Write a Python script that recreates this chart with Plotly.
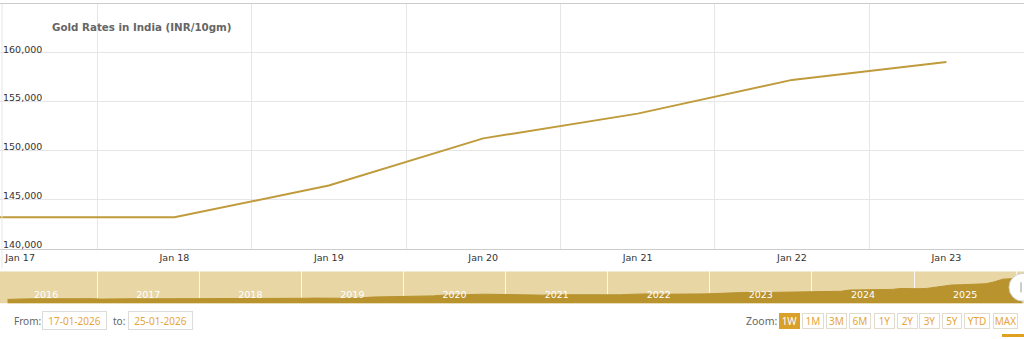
import pandas as pd
import plotly.graph_objects as go

# ---------------- data ----------------
dates = ["2026-01-16", "2026-01-17", "2026-01-18", "2026-01-19",
         "2026-01-20", "2026-01-21", "2026-01-22", "2026-01-23"]
rates = [143190, 143190, 143190, 146440, 151260, 153790, 157240, 159070]

y_ticks = [140000, 145000, 150000, 155000, 160000]

nav_dates = list(pd.date_range("2016-01-15", "2025-12-15", freq="MS") + pd.Timedelta(days=14)) + \
    [pd.Timestamp(d) for d in ["2026-01-09", "2026-01-16", "2026-01-23"]]
nav_values = [
    26000, 28500, 28500, 29000, 29500, 30000, 31000, 31000, 31000, 30000, 29500, 27500,
    28500, 29500, 29000, 29500, 28800, 28800, 28500, 29500, 30000, 29800, 29800, 29000,
    30000, 30500, 30800, 31500, 31500, 30800, 30000, 29800, 30800, 32000, 31000, 31500,
    32500, 33500, 32000, 31800, 32000, 33500, 34800, 37500, 38000, 38500, 38000, 38500,
    40000, 41500, 43000, 46000, 47000, 48000, 50500, 53000, 51000, 50500, 49500, 49000,
    49500, 47000, 44500, 46500, 48500, 48000, 47500, 47000, 46500, 47500, 48500, 47500,
    48000, 50000, 52000, 52500, 50500, 50500, 50500, 51500, 49500, 50500, 52500, 54000,
    56000, 56500, 58500, 60500, 61000, 59000, 59500, 59500, 58500, 60000, 61500, 62500,
    62500, 62500, 65000, 71000, 72000, 72000, 71000, 71500, 74000, 78500, 77000, 77000,
    78500, 84000, 88000, 95000, 96000, 98000, 99000, 101000, 110000, 123000, 125000, 134000,
    139000, 143190, 159070,
]
nav_dates = nav_dates[:len(nav_values)]

title_text = "Gold Rates in India (INR/10gm)"
from_label, to_label = "From:", "to:"
from_date, to_date = "17-01-2026", "25-01-2026"
zoom_label = "Zoom:"
zoom_buttons = ["1W", "1M", "3M", "6M", "1Y", "2Y", "3Y", "5Y", "YTD", "MAX"]
zoom_selected = "1W"

# ---------------- styling ----------------
W, H = 1024, 339
GOLD = "#bf9b3c"
NAV_BG = "#e8d6a5"
NAV_FILL = "#b8932e"
GRID = "#e6e6e6"
ORANGE_TXT = "#e6a53a"
FONT = "DejaVu Sans"


def px(x):
    return x / W


def py(y):
    return 1 - y / H


noons = [pd.Timestamp(d) + pd.Timedelta(hours=12) for d in dates]

fig = go.Figure()
fig.add_trace(go.Scatter(
    x=dates, y=rates, mode="lines",
    line=dict(color=GOLD, width=2), xaxis="x", yaxis="y",
    hoverinfo="skip", showlegend=False,
))
fig.add_trace(go.Scatter(
    x=nav_dates, y=nav_values, mode="lines", fill="tozeroy",
    line=dict(color=NAV_FILL, width=1), fillcolor=NAV_FILL,
    xaxis="x2", yaxis="y2", hoverinfo="skip", showlegend=False,
))

fig.update_layout(
    width=W, height=H,
    margin=dict(l=0, r=0, t=0, b=0),
    paper_bgcolor="white", plot_bgcolor="rgba(0,0,0,0)",
    font=dict(family=FONT, size=10, color="#333333"),
    xaxis=dict(
        domain=[0, 1], anchor="y",
        range=["2026-01-16 20:53", "2026-01-23 12:04"],
        tickvals=dates[1:], tickformat="%b %d",
        showgrid=False, ticks="", zeroline=False,
        showline=True, linecolor="#cccccc", linewidth=1, mirror=True,
        ticklabeloverflow="allow",
        tickfont=dict(size=9.5, color="#333333", family=FONT),
        minor=dict(tickvals=noons, showgrid=True, gridcolor=GRID, gridwidth=1, ticks=""),
    ),
    yaxis=dict(
        domain=[py(250), py(4)], anchor="x",
        range=[140000, 165000],
        tickvals=y_ticks, tickformat=",d",
        ticklabelposition="inside top",
        ticklabelshift=3,
        ticklabeloverflow="allow",
        showgrid=True, gridcolor=GRID, gridwidth=1,
        zeroline=False, ticks="", showline=False,
        tickfont=dict(size=9.5, color="#333333", family=FONT),
    ),
    xaxis2=dict(
        domain=[0, 1], anchor="y2",
        range=["2016-01-19", "2026-01-29"],
        dtick="M12", tick0="2016-01-01", tickformat="%Y",
        ticklabelmode="period", ticklabelposition="inside",
        showgrid=True, gridcolor="rgba(255,255,255,0.85)", gridwidth=1,
        ticks="", zeroline=False, showline=False,
        tickfont=dict(size=9.5, color="white", family=FONT),
    ),
    yaxis2=dict(
        domain=[py(305), py(273)], anchor="x2",
        range=[8000, 160000], visible=False,
    ),
)

shapes = []
shapes.append(dict(type="rect", xref="x2 domain", yref="y2 domain", x0=0, x1=1, y0=0, y1=1,
                   fillcolor=NAV_BG, line=dict(width=0), layer="below"))
shapes.append(dict(type="line", xref="paper", yref="paper", x0=px(2), x1=px(2), y0=py(4), y1=py(270),
                   line=dict(color=GRID, width=1)))
shapes.append(dict(type="circle", xref="paper", yref="paper",
                   x0=px(1009), x1=px(1037), y0=py(303), y1=py(275),
                   fillcolor="white", line=dict(color="#d0d0d0", width=1)))
shapes.append(dict(type="line", xref="paper", yref="paper", x0=px(1021), x1=px(1021),
                   y0=py(294), y1=py(284), line=dict(color="#999999", width=1)))
shapes.append(dict(type="rect", xref="paper", yref="paper", x0=px(1002), x1=px(1024),
                   y0=py(339), y1=py(336), fillcolor="#e0a020", line=dict(width=0)))
fig.update_layout(shapes=shapes)

ann = []
ann.append(dict(text="<b>" + title_text + "</b>", xref="paper", yref="paper",
                x=px(50), y=py(27), xanchor="left", yanchor="middle", showarrow=False,
                font=dict(family=FONT, size=10.3, color="#666666")))

CTRL_FONT = "Noto Sans"
CY = 323


def box(text, x0, x1, y0, y1, fill="white", border="#dcdcdc", color=ORANGE_TXT):
    return dict(text=text, xref="paper", yref="paper",
                x=px((x0 + x1) / 2), y=py((y0 + y1) / 2), xanchor="center", yanchor="middle",
                width=x1 - x0 - 2, height=y1 - y0 - 2, borderpad=0, borderwidth=1,
                bordercolor=border, bgcolor=fill, showarrow=False,
                font=dict(family=CTRL_FONT, size=10, color=color))


ann.append(dict(text=from_label, xref="paper", yref="paper", x=px(12), y=py(CY),
                xanchor="left", yanchor="middle", showarrow=False,
                font=dict(family=CTRL_FONT, size=10, color="#666666")))
ann.append(box(from_date, 42, 107, 313, 332))
ann.append(dict(text=to_label, xref="paper", yref="paper", x=px(111), y=py(CY),
                xanchor="left", yanchor="middle", showarrow=False,
                font=dict(family=CTRL_FONT, size=10, color="#666666")))
ann.append(box(to_date, 128, 193, 313, 332))

ann.append(dict(text=zoom_label, xref="paper", yref="paper", x=px(744), y=py(CY),
                xanchor="left", yanchor="middle", showarrow=False,
                font=dict(family=CTRL_FONT, size=10.5, color="#666666")))
btn_x = [(779, 800), (802, 824), (826, 847), (849, 871), (874, 895),
         (897, 918), (919, 940), (942, 962), (964, 990), (993, 1018)]
for label, (x0, x1) in zip(zoom_buttons, btn_x):
    if label == zoom_selected:
        ann.append(box(label, x0, x1, 315, 331, fill="#d9a12a", border="#d9a12a", color="white"))
    else:
        ann.append(box(label, x0, x1, 315, 331, border="#e2dccf"))

fig.update_layout(annotations=ann)

fig.write_html("out.html")
